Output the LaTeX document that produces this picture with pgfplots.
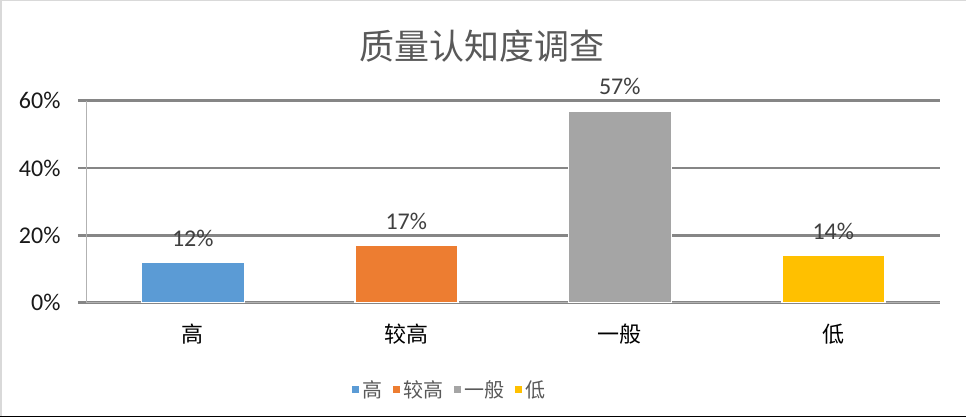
\documentclass[border=0pt]{standalone}
\usepackage{pgfplots}
\pgfplotsset{compat=1.18}
\usepackage{fontspec}
\setmainfont{Carlito}
\newfontfamily\cjk{Noto Sans CJK SC}
\definecolor{cblue}{HTML}{5B9BD5}
\definecolor{corange}{HTML}{ED7D31}
\definecolor{cgray}{HTML}{A5A5A5}
\definecolor{cyellow}{HTML}{FFC000}
\definecolor{gridc}{HTML}{868686}
\definecolor{txt}{HTML}{595959}
\begin{document}
\begin{tikzpicture}
\useasboundingbox (0,0) rectangle (966bp,417bp);
\fill[white] (0,0) rectangle (966bp,417bp);
\draw[line width=3bp, color=black!15] (0,417bp) -- (966bp,417bp);
\draw[line width=3bp, color=black!15] (0,0) -- (0,417bp);
\draw[line width=2bp, color=black] (0,0) -- (966bp,0);
\node[font=\cjk\fontsize{35bp}{40bp}\selectfont, text=txt] at (482bp,371bp) {质量认知度调查};
\begin{axis}[
    at={(86bp,114.3bp)}, anchor=south west,
    scale only axis, width=854bp, height=202bp,
    xmin=-0.5, xmax=3.5, ymin=0, ymax=60,
    axis x line*=bottom, axis y line*=left,
    axis line style={-, color=black!30, line width=0.8bp},
    ybar, bar width=103bp,
    xtick={0,1,2,3},
    xticklabels={高,较高,一般,低},
    xticklabel style={font=\cjk\fontsize{22bp}{26bp}\selectfont, yshift=-10bp},
    xtick style={draw=none},
    extra x ticks={-0.5,0.5,1.5,2.5,3.5},
    extra x tick labels={},
    extra x tick style={grid=none, tick style={draw=black!30, line width=0.8bp}},
    ytick={0,20,40,60},
    yticklabel={\pgfmathprintnumber{\tick}\%},
    yticklabel style={font=\fontsize{24bp}{28bp}\selectfont, text=black!90, xshift=-14bp},
    /pgf/number format/assume math mode=true,
    ytick style={draw=gridc, line width=2.6bp},
    tick align=outside, major tick length=8bp,
    ymajorgrids, major grid style={draw=gridc, line width=2.6bp},
    nodes near coords={\pgfmathprintnumber{\pgfplotspointmeta}\%},
    every node near coord/.append style={font=\fontsize{24bp}{28bp}\selectfont, text=black!75, yshift=12bp},
    legend columns=4,
    legend style={at={(0.426,-0.432)}, anchor=center, draw=none, fill=none,
        font=\cjk\fontsize{20bp}{24bp}\selectfont, text=txt, column sep=1bp},
    legend image code/.code={\fill[#1, draw=none] (0bp,-3.5bp) rectangle (7bp,3.5bp);},
]
\addplot[fill=cblue, draw=white, line width=1.5bp, bar shift=0pt] coordinates {(0,12)};
\addplot[fill=corange, draw=white, line width=1.5bp, bar shift=0pt] coordinates {(1,17)};
\addplot[fill=cgray, draw=white, line width=1.5bp, bar shift=0pt] coordinates {(2,57)};
\addplot[fill=cyellow, draw=white, line width=1.5bp, bar shift=0pt] coordinates {(3,14)};
\legend{高\hspace*{8bp},较高\hspace*{8bp},一般\hspace*{8bp},低}
\end{axis}
\end{tikzpicture}
\end{document}
